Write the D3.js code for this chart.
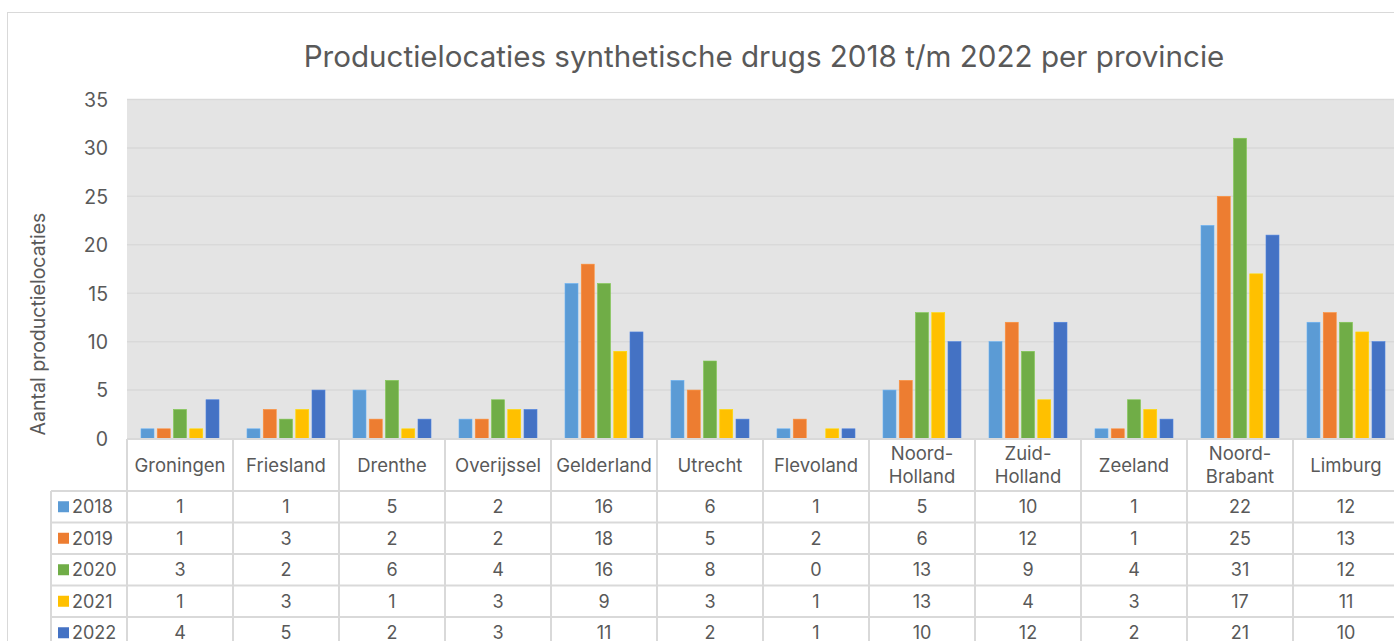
<!DOCTYPE html>
<html>
<head>
<meta charset="utf-8">
<script src="https://cdn.jsdelivr.net/npm/d3@7"></script>
<style>
html,body{margin:0;padding:0;background:#fff;overflow:hidden;}
svg{display:block;font-family:Inter, "Noto Sans", sans-serif;}
</style>
</head>
<body>
<svg id="chart" width="1394" height="641"></svg>
<script>
const categories = ["Groningen","Friesland","Drenthe","Overijssel","Gelderland","Utrecht","Flevoland","Noord-Holland","Zuid-Holland","Zeeland","Noord-Brabant","Limburg"];
const categoryLines = [["Groningen"],["Friesland"],["Drenthe"],["Overijssel"],["Gelderland"],["Utrecht"],["Flevoland"],["Noord-","Holland"],["Zuid-","Holland"],["Zeeland"],["Noord-","Brabant"],["Limburg"]];
const years = ["2018","2019","2020","2021","2022"];
const colors = ["#5B9BD5","#ED7D31","#70AD47","#FFC000","#4472C4"];
const v2018 = [1,1,5,2,16,6,1,5,10,1,22,12];
const v2019 = [1,3,2,2,18,5,2,6,12,1,25,13];
const v2020 = [3,2,6,4,16,8,0,13,9,4,31,12];
const v2021 = [1,3,1,3,9,3,1,13,4,3,17,11];
const v2022 = [4,5,2,3,11,2,1,10,12,2,21,10];
const series = [v2018,v2019,v2020,v2021,v2022];
const yTicks = [0,5,10,15,20,25,30,35];
const title = "Productielocaties synthetische drugs 2018 t/m 2022 per provincie";
const yTitle = "Aantal productielocaties";

const svg = d3.select("#chart");
const textColor = "#595959";
const lineColor = "#D9D9D9";

// outer chart border
svg.append("rect").attr("x",7.5).attr("y",12.5).attr("width",1500).attr("height",800)
  .attr("fill","#fff").attr("stroke",lineColor).attr("stroke-width",1);

const plotLeft = 127, plotRight = 1399, plotTop = 99.5, plotBottom = 438.5;
const x = d3.scaleBand().domain(categories).range([plotLeft, plotRight]).paddingInner(0).paddingOuter(0);
const xs = d3.scaleBand().domain(years).range([14, x.bandwidth()-14]).paddingInner(0.2).paddingOuter(0);
const y = d3.scaleLinear().domain([0,35]).range([plotBottom, plotTop]);

// plot background
svg.append("rect").attr("x",plotLeft).attr("y",plotTop).attr("width",plotRight-plotLeft).attr("height",plotBottom-plotTop).attr("fill","#E4E4E4");

// gridlines
svg.append("g").selectAll("line").data(yTicks.filter(d=>d>0)).join("line")
  .attr("x1",plotLeft).attr("x2",plotRight).attr("y1",d=>y(d)).attr("y2",d=>y(d))
  .attr("stroke",lineColor).attr("stroke-width",1.5);

// y axis labels
const yAxis = d3.axisLeft(y).tickValues(yTicks).tickSize(0).tickPadding(0);
const ya = svg.append("g").attr("transform",`translate(${plotLeft-19},0)`).call(yAxis);
ya.select(".domain").remove();
ya.selectAll("text").attr("fill",textColor).style("font-size","19.5px").style("font-family","Inter, sans-serif").attr("dy","0.35em");

// y title
svg.append("text").attr("transform",`translate(45,324) rotate(-90)`)
  .attr("text-anchor","middle").attr("fill",textColor).style("font-size","19.5px").text(yTitle);

// title
svg.append("text").attr("x",764).attr("y",67).attr("text-anchor","middle").attr("fill",textColor)
  .style("font-size","29.6px").text(title);

// bars
const barData = [];
categories.forEach((c,i)=>years.forEach((yr,j)=>barData.push({c,yr,j,v:series[j][i]})));
svg.append("g").selectAll("rect").data(barData.filter(d=>d.v>0)).join("rect")
  .attr("x",d=>x(d.c)+xs(d.yr)).attr("width",xs.bandwidth())
  .attr("y",d=>y(d.v)).attr("height",d=>y(0)-y(d.v))
  .attr("fill",d=>colors[d.j]).attr("stroke",d=>d3.color(colors[d.j]).brighter(0.4)).attr("stroke-width",0.6);

// data table
const headerTop = 439, headerBottom = 491, rowH = 31.5;
const legendLeft = 51;
const tbl = svg.append("g");
tbl.append("rect").attr("x",plotLeft).attr("y",headerTop).attr("width",plotRight-plotLeft).attr("height",headerBottom-headerTop+rowH*5).attr("fill","#fff");
tbl.append("line").attr("x1",plotLeft).attr("x2",plotRight).attr("y1",headerTop).attr("y2",headerTop).attr("stroke",lineColor).attr("stroke-width",2);
d3.range(6).forEach(k=>{
  const yy = headerBottom + k*rowH;
  tbl.append("line").attr("x1",legendLeft).attr("x2",plotRight).attr("y1",yy).attr("y2",yy).attr("stroke",lineColor).attr("stroke-width",2);
});
categories.forEach(c=>{
  tbl.append("line").attr("x1",x(c)).attr("x2",x(c)).attr("y1",headerTop).attr("y2",headerBottom+rowH*5).attr("stroke",lineColor).attr("stroke-width",2);
});
tbl.append("line").attr("x1",legendLeft).attr("x2",legendLeft).attr("y1",headerBottom).attr("y2",headerBottom+rowH*5).attr("stroke",lineColor).attr("stroke-width",2);

// header labels
categories.forEach((c,i)=>{
  const lines = categoryLines[i];
  const cy = (headerTop+headerBottom)/2;
  const t = tbl.append("text").attr("x",x(c)+x.bandwidth()/2).attr("text-anchor","middle").attr("fill",textColor).style("font-size","18.5px");
  lines.forEach((ln,k)=>{
    t.append("tspan").attr("x",x(c)+x.bandwidth()/2).attr("y",cy + (k-(lines.length-1)/2)*23 + 6.5).text(ln);
  });
});
// rows
years.forEach((yr,j)=>{
  const cy = headerBottom + j*rowH + rowH/2;
  tbl.append("rect").attr("x",58).attr("y",cy-5.5).attr("width",11).attr("height",11).attr("fill",colors[j]);
  tbl.append("text").attr("x",72).attr("y",cy+6.5).attr("fill",textColor).style("font-size","18px").text(yr);
  categories.forEach((c,i)=>{
    tbl.append("text").attr("x",x(c)+x.bandwidth()/2).attr("y",cy+6.5).attr("text-anchor","middle").attr("fill",textColor).style("font-size","18px").text(series[j][i]);
  });
});
</script>
</body>
</html>
